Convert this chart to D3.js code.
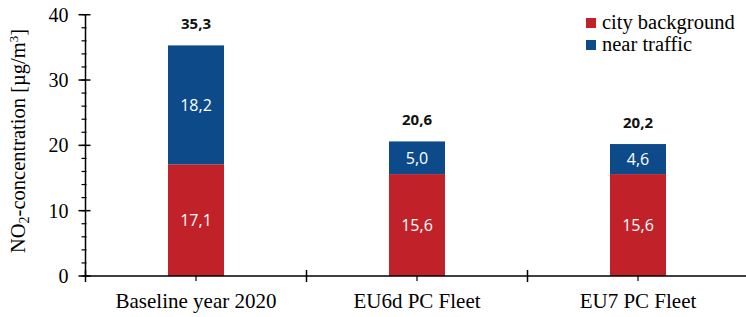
<!DOCTYPE html>
<html>
<head>
<meta charset="UTF-8">
<script src="https://d3js.org/d3.v7.min.js"></script>
<style>
  body { margin: 0; background: #fff; }
</style>
</head>
<body>
<div id="chart"></div>
<script>
// data
var categories = ["Baseline year 2020", "EU6d PC Fleet", "EU7 PC Fleet"];
var cityBackground = [17.1, 15.6, 15.6];
var nearTraffic = [18.2, 5.0, 4.6];
var totals = [35.3, 20.6, 20.2];
var seriesNames = ["city background", "near traffic"];
var yTicks = [0, 10, 20, 30, 40];

var width = 746, height = 317;
var margin = { left: 85.5, right: 0, top: 14.7, bottom: 41 };
var colors = ["#C1222A", "#0D4A8A"];
var serif = "'Liberation Serif', 'Times New Roman', serif";
var sans = "'Open Sans', 'Noto Sans', sans-serif";

var svg = d3.select("#chart").append("svg")
  .attr("width", width).attr("height", height);

var x = d3.scaleBand().domain(categories)
  .range([margin.left, margin.left + 221 * 3]).paddingInner(0).paddingOuter(0);
var y = d3.scaleLinear().domain([0, 40]).range([height - margin.bottom, margin.top]);

var fmt = function (v) { return d3.format(".1f")(v).replace(".", ","); };

var barW = 56;
var stacks = [cityBackground, nearTraffic];

// bars
stacks.forEach(function (vals, s) {
  svg.append("g").selectAll("rect").data(vals).enter().append("rect")
    .attr("x", function (d, i) { return x(categories[i]) + x.bandwidth() / 2 - barW / 2; })
    .attr("width", barW)
    .attr("y", function (d, i) {
      var base = s === 0 ? 0 : cityBackground[i];
      return y(base + d);
    })
    .attr("height", function (d, i) {
      var base = s === 0 ? 0 : cityBackground[i];
      return y(base) - y(base + d);
    })
    .attr("fill", colors[s]);

  svg.append("g").selectAll("text").data(vals).enter().append("text")
    .attr("x", function (d, i) { return x(categories[i]) + x.bandwidth() / 2; })
    .attr("y", function (d, i) {
      var base = s === 0 ? 0 : cityBackground[i];
      return y(base + d / 2) + 6;
    })
    .attr("text-anchor", "middle")
    .attr("fill", "#fff")
    .style("font-family", sans)
    .style("font-size", "16px")
    .text(function (d) { return fmt(d); });
});

// totals
svg.append("g").selectAll("text").data(totals).enter().append("text")
  .attr("x", function (d, i) { return x(categories[i]) + x.bandwidth() / 2; })
  .attr("y", function (d) { return y(d) - 16; })
  .attr("text-anchor", "middle")
  .style("font-family", sans)
  .style("font-weight", "bold")
  .style("font-size", "15px")
  .attr("fill", "#111")
  .text(function (d) { return fmt(d); });

// y axis
var yAxis = svg.append("g").attr("transform", "translate(" + margin.left + ",0)");
yAxis.append("line")
  .attr("y1", y(0)).attr("y2", y(40))
  .attr("stroke", "#000").attr("stroke-width", 1.5);
yAxis.selectAll(".minor").data(d3.range(0, 41, 2)).enter().append("line")
  .attr("x1", -4).attr("x2", 1)
  .attr("y1", function (d) { return y(d); }).attr("y2", function (d) { return y(d); })
  .attr("stroke", "#000").attr("stroke-width", 1.2);
yAxis.selectAll(".major").data(yTicks).enter().append("line")
  .attr("x1", -7).attr("x2", 5)
  .attr("y1", function (d) { return y(d); }).attr("y2", function (d) { return y(d); })
  .attr("stroke", "#000").attr("stroke-width", 1.5);
yAxis.selectAll("text").data(yTicks).enter().append("text")
  .attr("x", -17).attr("y", function (d) { return y(d) + 7; })
  .attr("text-anchor", "end")
  .style("font-family", serif).style("font-size", "20px")
  .text(function (d) { return d; });

// x axis
var xAxis = svg.append("g");
xAxis.append("line")
  .attr("x1", margin.left).attr("x2", width)
  .attr("y1", y(0)).attr("y2", y(0))
  .attr("stroke", "#000").attr("stroke-width", 1.5);
xAxis.selectAll(".bound").data(categories).enter().append("line")
  .attr("x1", function (d) { return x(d); }).attr("x2", function (d) { return x(d); })
  .attr("y1", y(0) - 6).attr("y2", y(0) + 6)
  .attr("stroke", "#000").attr("stroke-width", 1.5);
xAxis.selectAll(".ctick").data(categories).enter().append("line")
  .attr("x1", function (d) { return x(d) + x.bandwidth() / 2; })
  .attr("x2", function (d) { return x(d) + x.bandwidth() / 2; })
  .attr("y1", y(0)).attr("y2", y(0) + 5)
  .attr("stroke", "#000").attr("stroke-width", 1.2);
xAxis.selectAll("text").data(categories).enter().append("text")
  .attr("x", function (d) { return x(d) + x.bandwidth() / 2; })
  .attr("y", y(0) + 32)
  .attr("text-anchor", "middle")
  .style("font-family", serif).style("font-size", "21px")
  .text(function (d) { return d; });

// y label
var yl = svg.append("text")
  .attr("transform", "translate(25," + 141 + ") rotate(-90)")
  .attr("text-anchor", "middle")
  .style("font-family", serif).style("font-size", "20.5px");
yl.append("tspan").text("NO");
yl.append("tspan").attr("baseline-shift", "-25%").style("font-size", "14px").text("2");
yl.append("tspan").text("-concentration [µg/m");
yl.append("tspan").attr("baseline-shift", "super").style("font-size", "13px").text("3");
yl.append("tspan").text("]");

// legend
var lg = svg.append("g").attr("transform", "translate(586,14)");
seriesNames.forEach(function (n, i) {
  lg.append("rect").attr("x", 0).attr("y", i * 22 + 4).attr("width", 10).attr("height", 10)
    .attr("fill", colors[i]);
  lg.append("text").attr("x", 16).attr("y", i * 22 + 15)
    .style("font-family", serif).style("font-size", "20.5px")
    .text(n);
});
</script>
</body>
</html>
